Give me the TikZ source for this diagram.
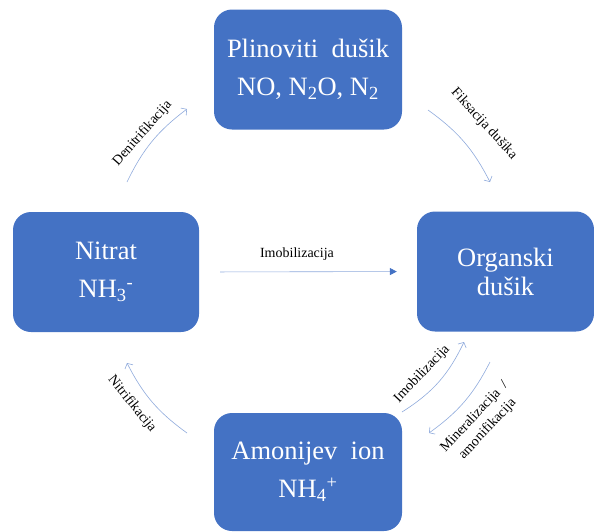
\documentclass[tikz,border=0pt]{standalone}
\usepackage{fontspec}
\setmainfont{Liberation Serif}
\usetikzlibrary{arrows.meta}
\definecolor{boxblue}{HTML}{4472C4}
\definecolor{linkblue}{HTML}{8FAADC}
\tikzset{
  pool/.style={fill=boxblue, rounded corners=18pt, text=white, align=center,
    inner sep=0pt, minimum width=188pt, minimum height=120pt,
    font=\fontsize{26.5}{38}\selectfont},
  flow/.style={draw=linkblue, line width=.6pt, -{Straight Barb[length=4pt,width=9pt]}},
  proc/.style={font=\fontsize{14}{18}\selectfont, inner sep=0pt, align=center},
}
\begin{document}
\begin{tikzpicture}[x=1pt,y=-1pt]
	\useasboundingbox (0,0) rectangle (594,531);
	
	\node[pool] (plin) at (308,69.5) {Plinoviti\ \ dušik\\NO, N\textsubscript{2}O, N\textsubscript{2}};
	\node[pool, minimum width=186pt] (nitrat) at (106,272) {Nitrat\\NH\textsubscript{3}\textsuperscript{-}};
	\node[pool, minimum width=177pt, font=\fontsize{26.5}{29}\selectfont] (organski) at (505.5,271.5) {Organski\\dušik};
	\node[pool, minimum height=118pt] (amonij) at (308,472) {Amonijev\ \ ion\\NH\textsubscript{4}\textsuperscript{+}};
	
	\coordinate (den-a) at (127,182); \coordinate (den-b) at (187,109);
	\coordinate (fix-a) at (428,110); \coordinate (fix-b) at (490,182);
	\coordinate (nit-a) at (187,433); \coordinate (nit-b) at (127,363);
	\coordinate (imo-a) at (402,412); \coordinate (imo-b) at (464,342);
	\coordinate (min-a) at (490,362); \coordinate (min-b) at (429,433);
	
	\draw[flow] (den-a) to[bend left=13.5] (den-b);
	\draw[flow] (fix-a) to[bend left=13.5] (fix-b);
	\draw[flow] (nit-a) to[bend left=13.5] (nit-b);
	\draw[flow] (imo-a) to[bend right=16] (imo-b);
	\draw[flow] (min-a) to[bend left=13.5] (min-b);
	\draw[draw=linkblue, line width=.6pt, -{Triangle[length=7pt,width=7pt,color=boxblue]},
		shorten <=21pt, shorten >=20pt] (nitrat.east) -- (organski.west);
	
	\node[proc, rotate=48.6] (den-l) at (142.5,133.5) {Denitrifikacija};
	\node[proc, rotate=-47.6] (fix-l) at (484,124) {Fiksacija\ dušika};
	\node[proc, rotate=-51] (nit-l) at (132,404) {Nitrifikacija};
	\node[proc, rotate=46.5] (imo-l) at (422,374) {Imobilizacija};
	\node[proc, rotate=47] (min-l) at (481,423) {Mineralizacija\ \ /\\amonifikacija};
	\node[proc] (imo-m) at (297,254) {Imobilizacija};
\end{tikzpicture}
\end{document}
